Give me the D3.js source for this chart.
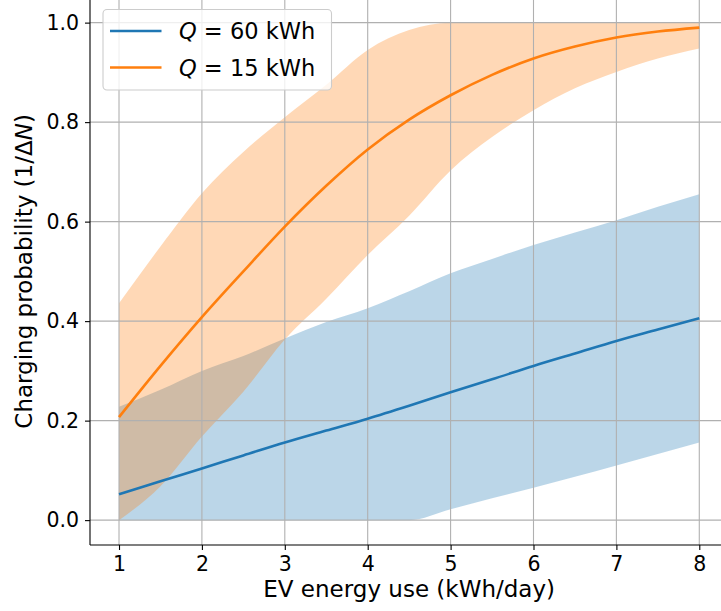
<!DOCTYPE html>
<html>
<head>
<meta charset="utf-8">
<script src="https://cdn.jsdelivr.net/npm/d3@7"></script>
<style>
  html, body { margin: 0; padding: 0; background: #fff; }
  svg { display: block; }
  text { font-family: "DejaVu Sans", sans-serif; fill: #000; }
</style>
</head>
<body>
<svg id="chart" width="721" height="611"></svg>
<script>
// ---------- data ----------
const energyUse = [1, 1.5, 2, 2.5, 3, 3.5, 4, 4.5, 5, 5.5, 6, 6.5, 7, 7.5, 8];

const q60Mean  = [0.052, 0.078, 0.104, 0.130, 0.156, 0.180, 0.204, 0.230, 0.257, 0.283, 0.310, 0.335, 0.360, 0.383, 0.406];
const q60Upper = [0.228, 0.262, 0.300, 0.330, 0.365, 0.398, 0.426, 0.460, 0.496, 0.525, 0.553, 0.578, 0.603, 0.630, 0.655];
const q60Lower = [0.000, 0.000, 0.000, 0.000, 0.000, 0.000, 0.000, 0.000, 0.022, 0.044, 0.065, 0.087, 0.110, 0.133, 0.156];

const q15Mean  = [0.207, 0.310, 0.408, 0.500, 0.590, 0.672, 0.745, 0.805, 0.854, 0.895, 0.928, 0.952, 0.970, 0.982, 0.990];
const q15Upper = [0.436, 0.550, 0.657, 0.740, 0.810, 0.875, 0.945, 0.985, 1.000, 1.000, 1.000, 1.000, 1.000, 1.000, 1.000];
const q15Lower = [0.000, 0.068, 0.168, 0.258, 0.363, 0.445, 0.533, 0.612, 0.703, 0.770, 0.824, 0.868, 0.901, 0.928, 0.948];

const xTicks = [1, 2, 3, 4, 5, 6, 7, 8];
const yTicks = [0.0, 0.2, 0.4, 0.6, 0.8, 1.0];

const seriesNames  = ["60 kWh", "15 kWh"];
const seriesColors = ["#1f77b4", "#ff7f0e"];

// ---------- layout ----------
const svg = d3.select("#chart");
const pLeft = 90, pRight = 728.3, pBottom = 545, pTop = -2.25;

const x = d3.scaleLinear().domain([0.65, 8.35]).range([pLeft, pRight]);
const y = d3.scaleLinear().domain([-0.05, 1.05]).range([pBottom, pTop]);

const series = [
  { mean: q60Mean, lo: q60Lower, hi: q60Upper, color: seriesColors[0], name: seriesNames[0] },
  { mean: q15Mean, lo: q15Lower, hi: q15Upper, color: seriesColors[1], name: seriesNames[1] }
];

const plot = svg.append("g");

// bands
const area = d3.area()
  .x((d, i) => x(energyUse[i]))
  .y0(d => y(d[0]))
  .y1(d => y(d[1]))
  .curve(d3.curveMonotoneX);

series.forEach(s => {
  plot.append("path")
    .datum(s.lo.map((v, i) => [v, s.hi[i]]))
    .attr("d", area)
    .attr("fill", s.color)
    .attr("fill-opacity", 0.3)
    .attr("stroke", "none");
});

// grid
const grid = plot.append("g");
xTicks.forEach(t => {
  grid.append("line")
    .attr("x1", x(t)).attr("x2", x(t))
    .attr("y1", pTop).attr("y2", pBottom)
    .attr("stroke", "#b0b0b0").attr("stroke-width", 1.1);
});
yTicks.forEach(t => {
  grid.append("line")
    .attr("x1", pLeft).attr("x2", pRight)
    .attr("y1", y(t)).attr("y2", y(t))
    .attr("stroke", "#b0b0b0").attr("stroke-width", 1.1);
});

// lines
const line = d3.line()
  .x((d, i) => x(energyUse[i]))
  .y(d => y(d))
  .curve(d3.curveMonotoneX);

series.forEach(s => {
  plot.append("path")
    .datum(s.mean)
    .attr("d", line)
    .attr("fill", "none")
    .attr("stroke", s.color)
    .attr("stroke-width", 2.6);
});

// axes
const xAxis = svg.append("g")
  .attr("transform", `translate(0,${pBottom})`)
  .call(d3.axisBottom(x).tickValues(xTicks).tickFormat(d3.format("d")).tickSize(5).tickPadding(6));
const yAxis = svg.append("g")
  .attr("transform", `translate(${pLeft},0)`)
  .call(d3.axisLeft(y).tickValues(yTicks).tickFormat(d3.format(".1f")).tickSize(5).tickPadding(6));

[xAxis, yAxis].forEach(a => {
  a.select(".domain").attr("stroke", "#000").attr("stroke-width", 1.1);
  a.selectAll(".tick line").attr("stroke", "#000").attr("stroke-width", 1.1);
  a.selectAll(".tick text")
    .attr("font-family", "DejaVu Sans, sans-serif")
    .attr("font-size", 20.5)
    .attr("fill", "#000");
});
xAxis.select(".domain").attr("d", `M${pLeft},0H${pRight}`);
yAxis.select(".domain").attr("d", `M0,${pTop}V${pBottom}`);

// axis labels
svg.append("text")
  .attr("x", (pLeft + pRight) / 2)
  .attr("y", 597)
  .attr("text-anchor", "middle")
  .attr("font-size", 23)
  .text("EV energy use (kWh/day)");

const yl = svg.append("text")
  .attr("transform", `translate(32,${(pTop + pBottom) / 2}) rotate(-90)`)
  .attr("text-anchor", "middle")
  .attr("font-size", 23);
yl.append("tspan").text("Charging probability (1/Δ");
yl.append("tspan").attr("font-style", "italic").text("N");
yl.append("tspan").text(")");

// legend
const lg = svg.append("g");
lg.append("rect")
  .attr("x", 103).attr("y", 9.5)
  .attr("width", 228.5).attr("height", 80.5)
  .attr("rx", 4).attr("ry", 4)
  .attr("fill", "#fff").attr("fill-opacity", 0.8)
  .attr("stroke", "#cccccc").attr("stroke-width", 1.1);

series.forEach((s, i) => {
  const cy = 31 + i * 36.5;
  lg.append("line")
    .attr("x1", 110).attr("x2", 161.5)
    .attr("y1", cy).attr("y2", cy)
    .attr("stroke", s.color).attr("stroke-width", 2.6);
  const t = lg.append("text")
    .attr("x", 179)
    .attr("y", cy + 8)
    .attr("font-size", 22.5);
  t.append("tspan").attr("font-style", "italic").text("Q");
  t.append("tspan").text(" = " + s.name);
});
</script>
</body>
</html>
